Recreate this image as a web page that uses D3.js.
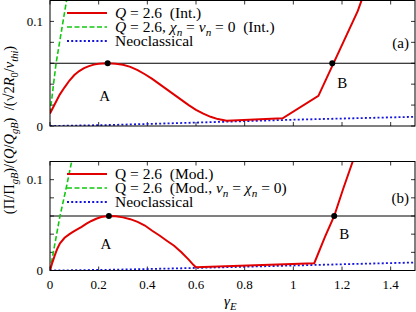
<!DOCTYPE html>
<html>
<head>
<meta charset="utf-8">
<script src="https://d3js.org/d3.v7.min.js"></script>
<style>
  body { margin: 0px; padding: 0px; background: #fff; }
</style>
</head>
<body>
<div id="svg_cont"></div>
<script>

// panel (a): interchange model
var gamma_int      = [0, 0.02, 0.04, 0.06, 0.08, 0.10, 0.12, 0.14, 0.16, 0.18, 0.20, 0.237, 0.27, 0.30, 0.33, 0.36, 0.39, 0.42, 0.45, 0.48, 0.51, 0.54, 0.57, 0.60, 0.63, 0.66, 0.69, 0.726, 0.956, 1.103, 1.265, 1.30];
var ratio_int      = [0.012, 0.021, 0.030, 0.037, 0.0435, 0.0487, 0.0525, 0.0553, 0.0573, 0.0587, 0.0596, 0.060, 0.0596, 0.0585, 0.0565, 0.0535, 0.0495, 0.045, 0.040, 0.035, 0.030, 0.025, 0.020, 0.0155, 0.0118, 0.0088, 0.0066, 0.005, 0.0073, 0.0288, 0.110, 0.133];
var gamma_int_nocol = [0, 0.025, 0.068, 0.1];
var ratio_int_nocol = [0.012, 0.060, 0.120, 0.160];
var gamma_neo_a    = [0, 0.25, 0.5, 0.75, 1.0, 1.25, 1.5];
var ratio_neo_a    = [0, 0.001, 0.0026, 0.0043, 0.006, 0.0074, 0.0088];

// panel (b): modified model
var gamma_mod      = [0, 0.01, 0.02, 0.03, 0.041, 0.06, 0.08, 0.096, 0.11, 0.13, 0.15, 0.17, 0.19, 0.21, 0.24, 0.27, 0.30, 0.33, 0.36, 0.39, 0.42, 0.45, 0.48, 0.51, 0.54, 0.57, 0.59, 0.60, 1.086, 1.13, 1.168, 1.205, 1.244, 1.26];
var ratio_mod      = [0, 0.009, 0.017, 0.024, 0.030, 0.036, 0.040, 0.0427, 0.045, 0.048, 0.0515, 0.0545, 0.057, 0.0588, 0.060, 0.0597, 0.0585, 0.0565, 0.0535, 0.0495, 0.0438, 0.0385, 0.0328, 0.0272, 0.020, 0.012, 0.006, 0.0037, 0.008, 0.037, 0.060, 0.090, 0.120, 0.134];
var gamma_mod_nocol = [0, 0.041, 0.066, 0.089, 0.1];
var ratio_mod_nocol = [0, 0.060, 0.090, 0.120, 0.134];
var gamma_neo_b    = [0, 0.25, 0.5, 0.75, 1.0, 1.25, 1.5];
var ratio_neo_b    = [0, 0.0008, 0.0022, 0.0038, 0.0055, 0.0072, 0.0088];

// operating points A and B, threshold level
var threshold = 0.06;
var points_a = [{name: 'A', g: 0.237}, {name: 'B', g: 1.16}];
var points_b = [{name: 'A', g: 0.242}, {name: 'B', g: 1.168}];

var x_ticks = [0, 0.2, 0.4, 0.6, 0.8, 1, 1.2, 1.4];
var x_tick_labels = ['0', '0.2', '0.4', '0.6', '0.8', '1', '1.2', '1.4'];
var y_ticks = [0, 0.02, 0.04, 0.06, 0.08, 0.1, 0.12];
var y_tick_labels = {0: '0', 0.1: '0.1'};

// legend rich text: [string, kind]  kind: r roman, i italic, s italic subscript, s0 roman subscript
var legend_a = [
  [['Q', 'i'], [' = 2.6  (Int.)', 'r']],
  [['Q', 'i'], [' = 2.6, ', 'r'], ['χ', 'i'], ['n', 's'], [' = ', 'r'], ['ν', 'i'], ['n', 's'], [' = 0  (Int.)', 'r']],
  [['Neoclassical', 'r']]
];
var legend_b = [
  [['Q = 2.6  (Mod.)', 'r']],
  [['Q = 2.6  (Mod., ', 'r'], ['ν', 'i'], ['n', 's'], [' = ', 'r'], ['χ', 'i'], ['n', 's'], [' = 0)', 'r']],
  [['Neoclassical', 'r']]
];
var y_label = [['(Π/Π', 'r'], ['gB', 's'], [')/(', 'r'], ['Q', 'i'], ['/', 'r'], ['Q', 'i'], ['gB', 's'],
               [')  /(√2', 'r'], ['R', 'i'], ['0', 's0'], ['/', 'r'], ['v', 'i'], ['thi', 's'], [')', 'r']];

var series_styles = [
  {color: '#e00000', width: 2, dash: null},
  {color: '#10c810', width: 1.6, dash: '5,2.5'},
  {color: '#1414e0', width: 1.8, dash: '2,2.2'}
];

var w = 416, h = 312;
var svg_main = d3.select('div#svg_cont').append('svg')
  .attr('width', w).attr('height', h);

var x = d3.scaleLinear().domain([0, 1.5]).range([50, 415]);

function add_text(parent, size) {
  return parent.append('text')
    .style('font-family', "'Liberation Serif'")
    .style('font-size', size + 'px')
    .style('fill', '#000');
}

function rich(sel, parts, size) {
  var shift = 0;
  parts.forEach(function(p) {
    var t = sel.append('tspan').text(p[0]).style('white-space', 'pre');
    var sub = (p[1] == 's' || p[1] == 's0');
    var dy = (sub ? size * 0.25 : 0) - shift;
    if (dy != 0) t.attr('dy', dy);
    shift = sub ? size * 0.25 : 0;
    if (p[1] == 'i' || p[1] == 's') t.style('font-style', 'italic');
    if (sub) t.style('font-size', (size * 0.72) + 'px');
  });
}

function panel(cfg) {
  var y = d3.scaleLinear().domain([0, 0.12]).range([cfg.bottom, cfg.top]);
  var g = svg_main.append('g');
  var clip_id = 'clip_' + cfg.tag;
  svg_main.append('defs').append('clipPath').attr('id', clip_id)
    .append('rect')
      .attr('x', x(0)).attr('y', cfg.top)
      .attr('width', x(1.5) - x(0)).attr('height', cfg.bottom - cfg.top);

  // ticks on all four sides, pointing in
  var tl = 4;
  x_ticks.forEach(function(t) {
    g.append('line').attr('x1', x(t)).attr('x2', x(t)).attr('y1', cfg.bottom).attr('y2', cfg.bottom - tl)
      .attr('stroke', '#000').attr('stroke-width', 0.8);
    g.append('line').attr('x1', x(t)).attr('x2', x(t)).attr('y1', cfg.top).attr('y2', cfg.top + tl)
      .attr('stroke', '#000').attr('stroke-width', 0.8);
  });
  y_ticks.forEach(function(t) {
    g.append('line').attr('x1', x(0)).attr('x2', x(0) + tl).attr('y1', y(t)).attr('y2', y(t))
      .attr('stroke', '#000').attr('stroke-width', 0.8);
    g.append('line').attr('x1', x(1.5)).attr('x2', x(1.5) - tl).attr('y1', y(t)).attr('y2', y(t))
      .attr('stroke', '#000').attr('stroke-width', 0.8);
    if (y_tick_labels[t] !== undefined) {
      add_text(g, 13).attr('x', 43).attr('y', y(t) + 4.5)
        .attr('text-anchor', 'end').text(y_tick_labels[t]);
    }
  });

  // threshold line
  g.append('line').attr('x1', x(0)).attr('x2', x(1.5))
    .attr('y1', y(threshold)).attr('y2', y(threshold))
    .attr('stroke', '#000').attr('stroke-width', 1);

  var line = d3.line().x(d => x(d[0])).y(d => y(d[1]));
  var curves = g.append('g').attr('clip-path', 'url(#' + clip_id + ')');
  // neoclassical first, then collisionless, main curve on top
  [2, 1, 0].forEach(function(i) {
    var s = cfg.series[i];
    var st = series_styles[i];
    curves.append('path')
      .datum(d3.zip(s[0], s[1]))
      .attr('d', line)
      .attr('fill', 'none')
      .attr('stroke', st.color)
      .attr('stroke-width', st.width)
      .attr('stroke-dasharray', st.dash);
  });

  // frame
  g.append('rect').attr('x', x(0)).attr('y', cfg.top)
    .attr('width', x(1.5) - x(0)).attr('height', cfg.bottom - cfg.top)
    .attr('fill', 'none').attr('stroke', '#000').attr('stroke-width', 1);

  // A / B points
  cfg.points.forEach(function(p) {
    g.append('circle').attr('cx', x(p.g)).attr('cy', y(threshold)).attr('r', 3).attr('fill', '#000');
  });
  add_text(g, 15).attr('x', x(cfg.points[0].g) - 3).attr('y', y(threshold) + cfg.labelDy)
    .attr('text-anchor', 'middle').text('A');
  add_text(g, 15).attr('x', x(cfg.points[1].g) + 10).attr('y', y(threshold) + cfg.labelDyB)
    .attr('text-anchor', 'middle').text('B');

  // panel tag
  add_text(g, 15).attr('x', 409).attr('y', cfg.top + cfg.tagY)
    .attr('text-anchor', 'end').text('(' + cfg.tag + ')');

  // legend
  cfg.legend.forEach(function(row, i) {
    var ly = cfg.top + 12.5 + i * 14;
    var st = series_styles[i];
    g.append('line').attr('x1', 67).attr('x2', 107).attr('y1', ly).attr('y2', ly)
      .attr('stroke', st.color).attr('stroke-width', st.width).attr('stroke-dasharray', st.dash);
    var t = add_text(g, 15.5).attr('x', 115).attr('y', ly + 5);
    rich(t, row, 15.5);
  });
}

panel({tag: 'a', top: 0.5, bottom: 126, legend: legend_a, points: points_a,
       labelDy: 38, labelDyB: 25, tagY: 47,
       series: [[gamma_int, ratio_int], [gamma_int_nocol, ratio_int_nocol], [gamma_neo_a, ratio_neo_a]]});
panel({tag: 'b', top: 161.5, bottom: 270.5, legend: legend_b, points: points_b,
       labelDy: 33, labelDyB: 23, tagY: 41,
       series: [[gamma_mod, ratio_mod], [gamma_mod_nocol, ratio_mod_nocol], [gamma_neo_b, ratio_neo_b]]});

// x tick labels under panel (b)
x_ticks.forEach(function(t, i) {
  add_text(svg_main, 13).attr('x', x(t)).attr('y', 289)
    .attr('text-anchor', 'middle').text(x_tick_labels[i]);
});

// x label
var xl = add_text(svg_main, 15).attr('x', 224).attr('y', 306);
rich(xl, [['γ', 'i'], ['E', 's']], 15);

// y label, rotated across both panels
var yl = add_text(svg_main, 14.5)
  .attr('transform', 'translate(14,130) rotate(-90)')
  .attr('text-anchor', 'middle');
rich(yl, y_label, 14.5);

</script>
</body>
</html>
